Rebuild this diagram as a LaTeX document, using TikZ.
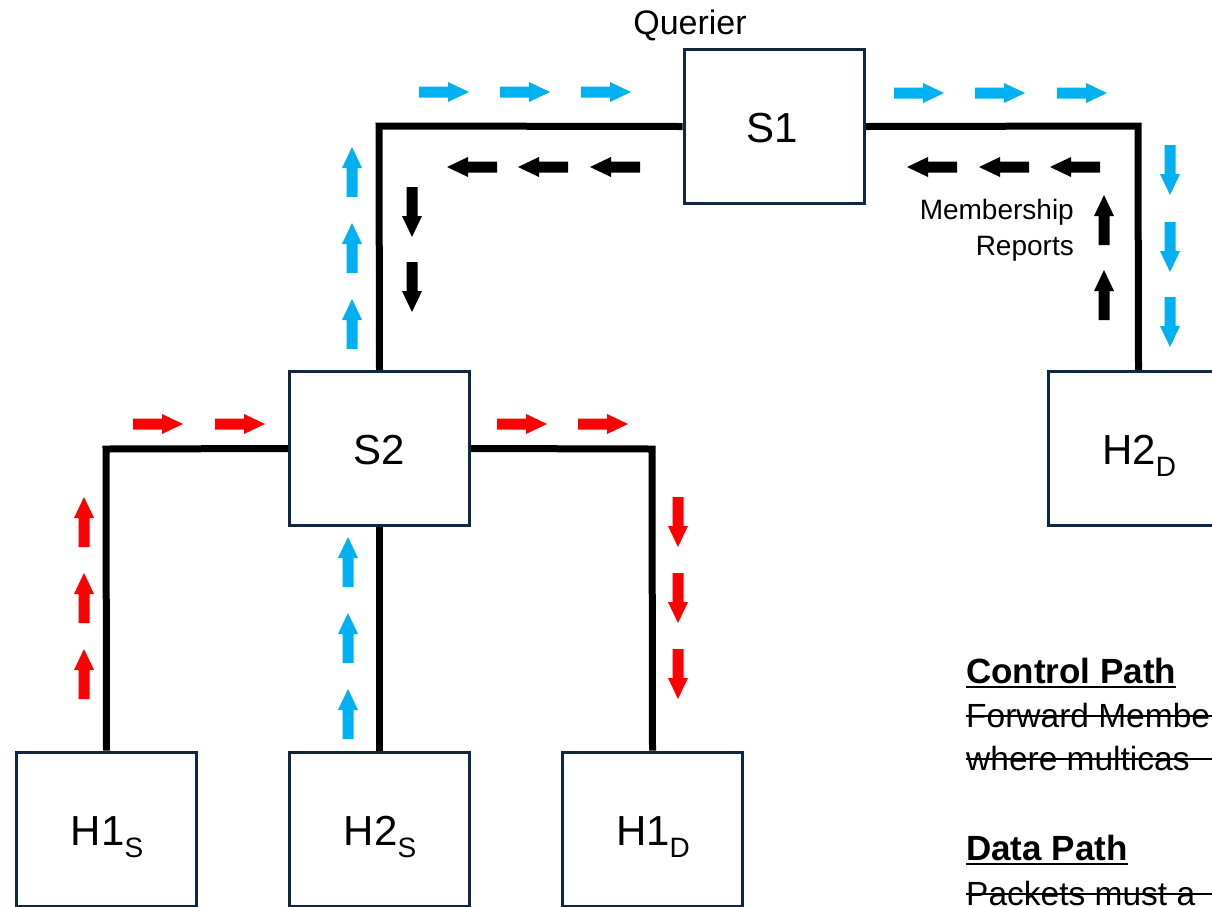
\documentclass[tikz,border=0pt]{standalone}
\usepackage{fontspec}
\setmainfont{Liberation Sans}
\usetikzlibrary{calc,backgrounds}
\definecolor{boxline}{HTML}{0E2841}
\definecolor{dblue}{HTML}{00B0F0}
\definecolor{dred}{HTML}{FF0000}
\tikzset{
  box/.style={draw=boxline, line width=3pt, fill=white, minimum width=180pt, minimum height=154pt, inner sep=0pt},
  link/.style={line width=7pt, black},
  blkarr/.pic={\fill[pic actions] (0,-5.5) -- (29,-5.5) -- (29,-10) -- (50,0) -- (29,10) -- (29,5.5) -- (0,5.5) -- cycle;},
  big/.style={font=\fontsize{42}{42}\selectfont, anchor=base, inner sep=0pt},
  legend/.style={font=\fontsize{33.5}{33.5}\selectfont, anchor=base west, inner sep=0pt},
  legendhead/.style={font=\fontsize{35}{35}\selectfont\bfseries, anchor=base west, inner sep=0pt},
  strike/.style={line width=2pt},
}
\newcommand{\subl}[1]{\raisebox{-12pt}{\fontsize{28}{28}\selectfont #1}}
\begin{document}
\begin{tikzpicture}[x=1pt,y=-1pt]
\useasboundingbox (0,0) rectangle (1212,906);
\clip (0,0) rectangle (1212,906);
\coordinate (c1) at (379,126);
\coordinate (c2) at (1138,126);
\coordinate (c3) at (106,449);
\coordinate (c4) at (652,449);
% boxes
\node[box] (s1) at (774,126.5) {};
\node[box] (s2) at (379.5,448.5) {};
\node[box] (h2d) at (1138.5,448.5) {};
\node[box] (h1s) at (106.5,829) {};
\node[box] (h2s) at (379.5,829) {};
\node[box] (h1d) at (652.5,829) {};
% connectors
\begin{scope}[on background layer]
\draw[link] (s1.west) -- (c1) -- (s2.north);
\draw[link] (s1.east) -- (c2) -- (h2d.north);
\draw[link] (s2.west) -- (c3) -- (h1s.north);
\draw[link] (s2.east) -- (c4) -- (h1d.north);
\draw[link] (s2.south) -- (h2s.north);
\end{scope}
% labels
\node[big] (ls1) at (772,142) {S1};
\node[big] (ls2) at (379,464) {S2};
\node[big] (lh2d) at (1139,464) {H2\subl{D}};
\node[big] (lh1s) at (107,845) {H1\subl{S}};
\node[big] (lh2s) at (380,845) {H2\subl{S}};
\node[big] (lh1d) at (653,845) {H1\subl{D}};
\node[font=\fontsize{34}{34}\selectfont, anchor=base, inner sep=0pt] (querier) at (690,34) {Querier};
\node[font=\fontsize{28}{36}\selectfont, align=right, anchor=north east, inner sep=0pt] (memb) at (1074,199) {Membership\\Reports};
% blue arrows
\foreach \x in {419,500,581} \pic[fill=dblue] at (\x,92) {blkarr};
\foreach \x in {894,975,1057} \pic[fill=dblue] at (\x,93) {blkarr};
\foreach \y in {145,222,297} \pic[fill=dblue, rotate=-90] at (1170,\y) {blkarr};
\foreach \y in {197,273,349} \pic[fill=dblue, rotate=90] at (352,\y) {blkarr};
\foreach \y in {587,663,739} \pic[fill=dblue, rotate=90] at (348,\y) {blkarr};
% black arrows
\foreach \x in {497,568,640} \pic[fill=black, rotate=180] at (\x,167) {blkarr};
\foreach \x in {957,1029,1100} \pic[fill=black, rotate=180] at (\x,167) {blkarr};
\foreach \y in {245,320} \pic[fill=black, rotate=90] at (1104,\y) {blkarr};
\foreach \y in {187,262} \pic[fill=black, rotate=-90] at (412,\y) {blkarr};
% red arrows
\foreach \x in {133,215} \pic[fill=dred] at (\x,424) {blkarr};
\foreach \x in {497,578} \pic[fill=dred] at (\x,424) {blkarr};
\foreach \y in {547,623,699} \pic[fill=dred, rotate=90] at (84,\y) {blkarr};
\foreach \y in {497,573,649} \pic[fill=dred, rotate=-90] at (678,\y) {blkarr};
% legend
\node[legendhead] (ctl) at (966,683) {Control Path};
\draw[strike] ($(ctl.base west)+(0,4)$) -- ($(ctl.base east)+(0,4)$);
\node[legend] (t1) at (966,727) {Forward Membe};
\draw[strike] (966,716) -- (1212,716);
\node[legend] (t2) at (966,770) {where multicas};
\draw[strike] (966,759) -- (1212,759);
\node[legendhead] (dat) at (966,860) {Data Path};
\draw[strike] ($(dat.base west)+(0,4)$) -- ($(dat.base east)+(0,4)$);
\node[legend] (t3) at (966,905) {Packets must a};
\draw[strike] (966,894) -- (1212,894);
\end{tikzpicture}
\end{document}
